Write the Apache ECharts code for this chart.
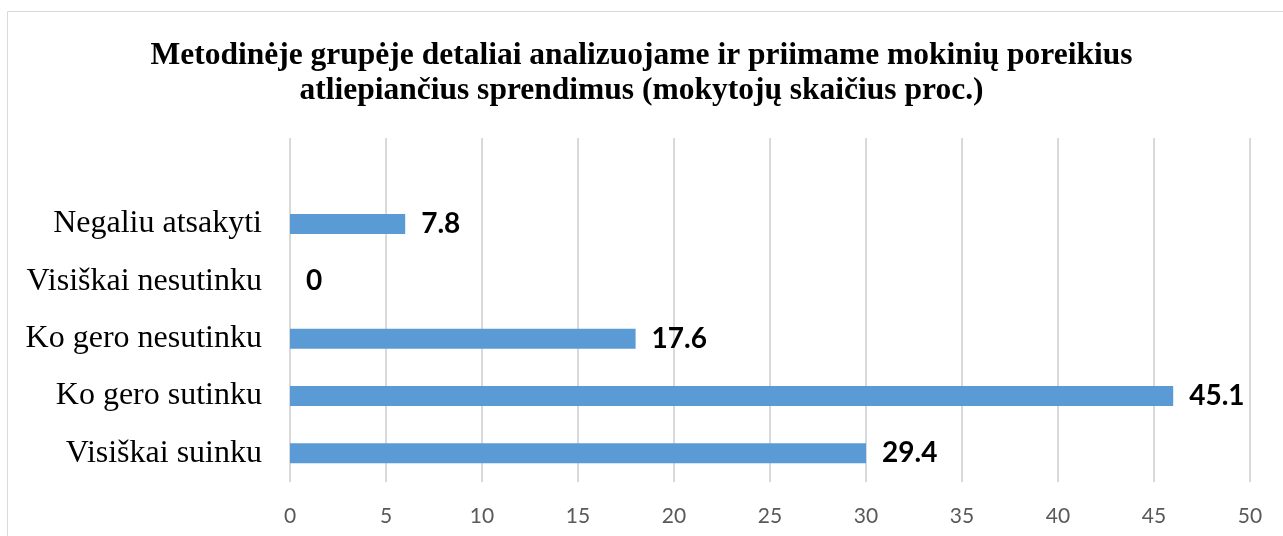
<!DOCTYPE html>
<html>
<head>
<meta charset="utf-8">
<script src="https://cdn.jsdelivr.net/npm/echarts@6/dist/echarts.min.js"></script>
<style>
  html, body { margin: 0; padding: 0; background: #fff; }
  #chart { width: 1283px; height: 536px; }
</style>
</head>
<body>
<div id="chart"></div>
<script>
// categories top to bottom; first one is the empty slot above the bars
var categories = ['', 'Negaliu atsakyti', 'Visiškai nesutinku', 'Ko gero nesutinku', 'Ko gero sutinku', 'Visiškai suinku'];
// bar lengths as drawn in the picture
var barValues = [null, 6, 0, 18, 46, 30];
// the numbers printed next to the bars
var labelTexts = ['', '7.8', '0', '17.6', '45.1', '29.4'];
var xTicks = [0, 5, 10, 15, 20, 25, 30, 35, 40, 45, 50];

var myChart = echarts.init(document.getElementById('chart'));

var option = {
    backgroundColor: '#fff',
    animation: false,
    title: {
        text: 'Metodinėje grupėje detaliai analizuojame ir priimame mokinių poreikius\natliepiančius sprendimus (mokytojų skaičius proc.)',
        left: 'center',
        top: 34,
        textStyle: {
            fontFamily: 'Liberation Serif',
            fontWeight: 'bold',
            fontSize: 31.5,
            lineHeight: 34.5,
            color: '#000'
        }
    },
    graphic: [{
        type: 'rect',
        shape: { x: 7.5, y: 11.5, width: 1400, height: 700 },
        style: { fill: 'none', stroke: '#d9d9d9', lineWidth: 1 },
        silent: true,
        z: -1
    }],
    grid: {
        left: 290,
        right: 33,
        top: 138,
        bottom: 54
    },
    xAxis: {
        type: 'value',
        min: xTicks[0],
        max: xTicks[xTicks.length - 1],
        interval: 5,
        axisLine: { show: false },
        axisTick: { show: false },
        splitLine: { lineStyle: { color: '#d9d9d9', width: 2 } },
        axisLabel: {
            margin: 24,
            fontFamily: 'Lato',
            fontSize: 21,
            color: '#595959'
        }
    },
    yAxis: {
        type: 'category',
        inverse: true,
        data: categories,
        axisLine: { show: false },
        axisTick: { show: false },
        splitLine: { show: false },
        axisLabel: {
            margin: 28,
            fontFamily: 'Liberation Serif',
            fontSize: 32,
            color: '#000'
        }
    },
    series: [{
        type: 'bar',
        data: barValues,
        barWidth: 20,
        itemStyle: { color: '#5b9bd5' },
        label: {
            show: true,
            position: 'right',
            distance: 16,
            fontFamily: 'Lato',
            fontWeight: 'bold',
            fontSize: 28,
            color: '#000',
            formatter: function (p) { return labelTexts[p.dataIndex]; }
        }
    }]
};

myChart.setOption(option);
</script>
</body>
</html>
